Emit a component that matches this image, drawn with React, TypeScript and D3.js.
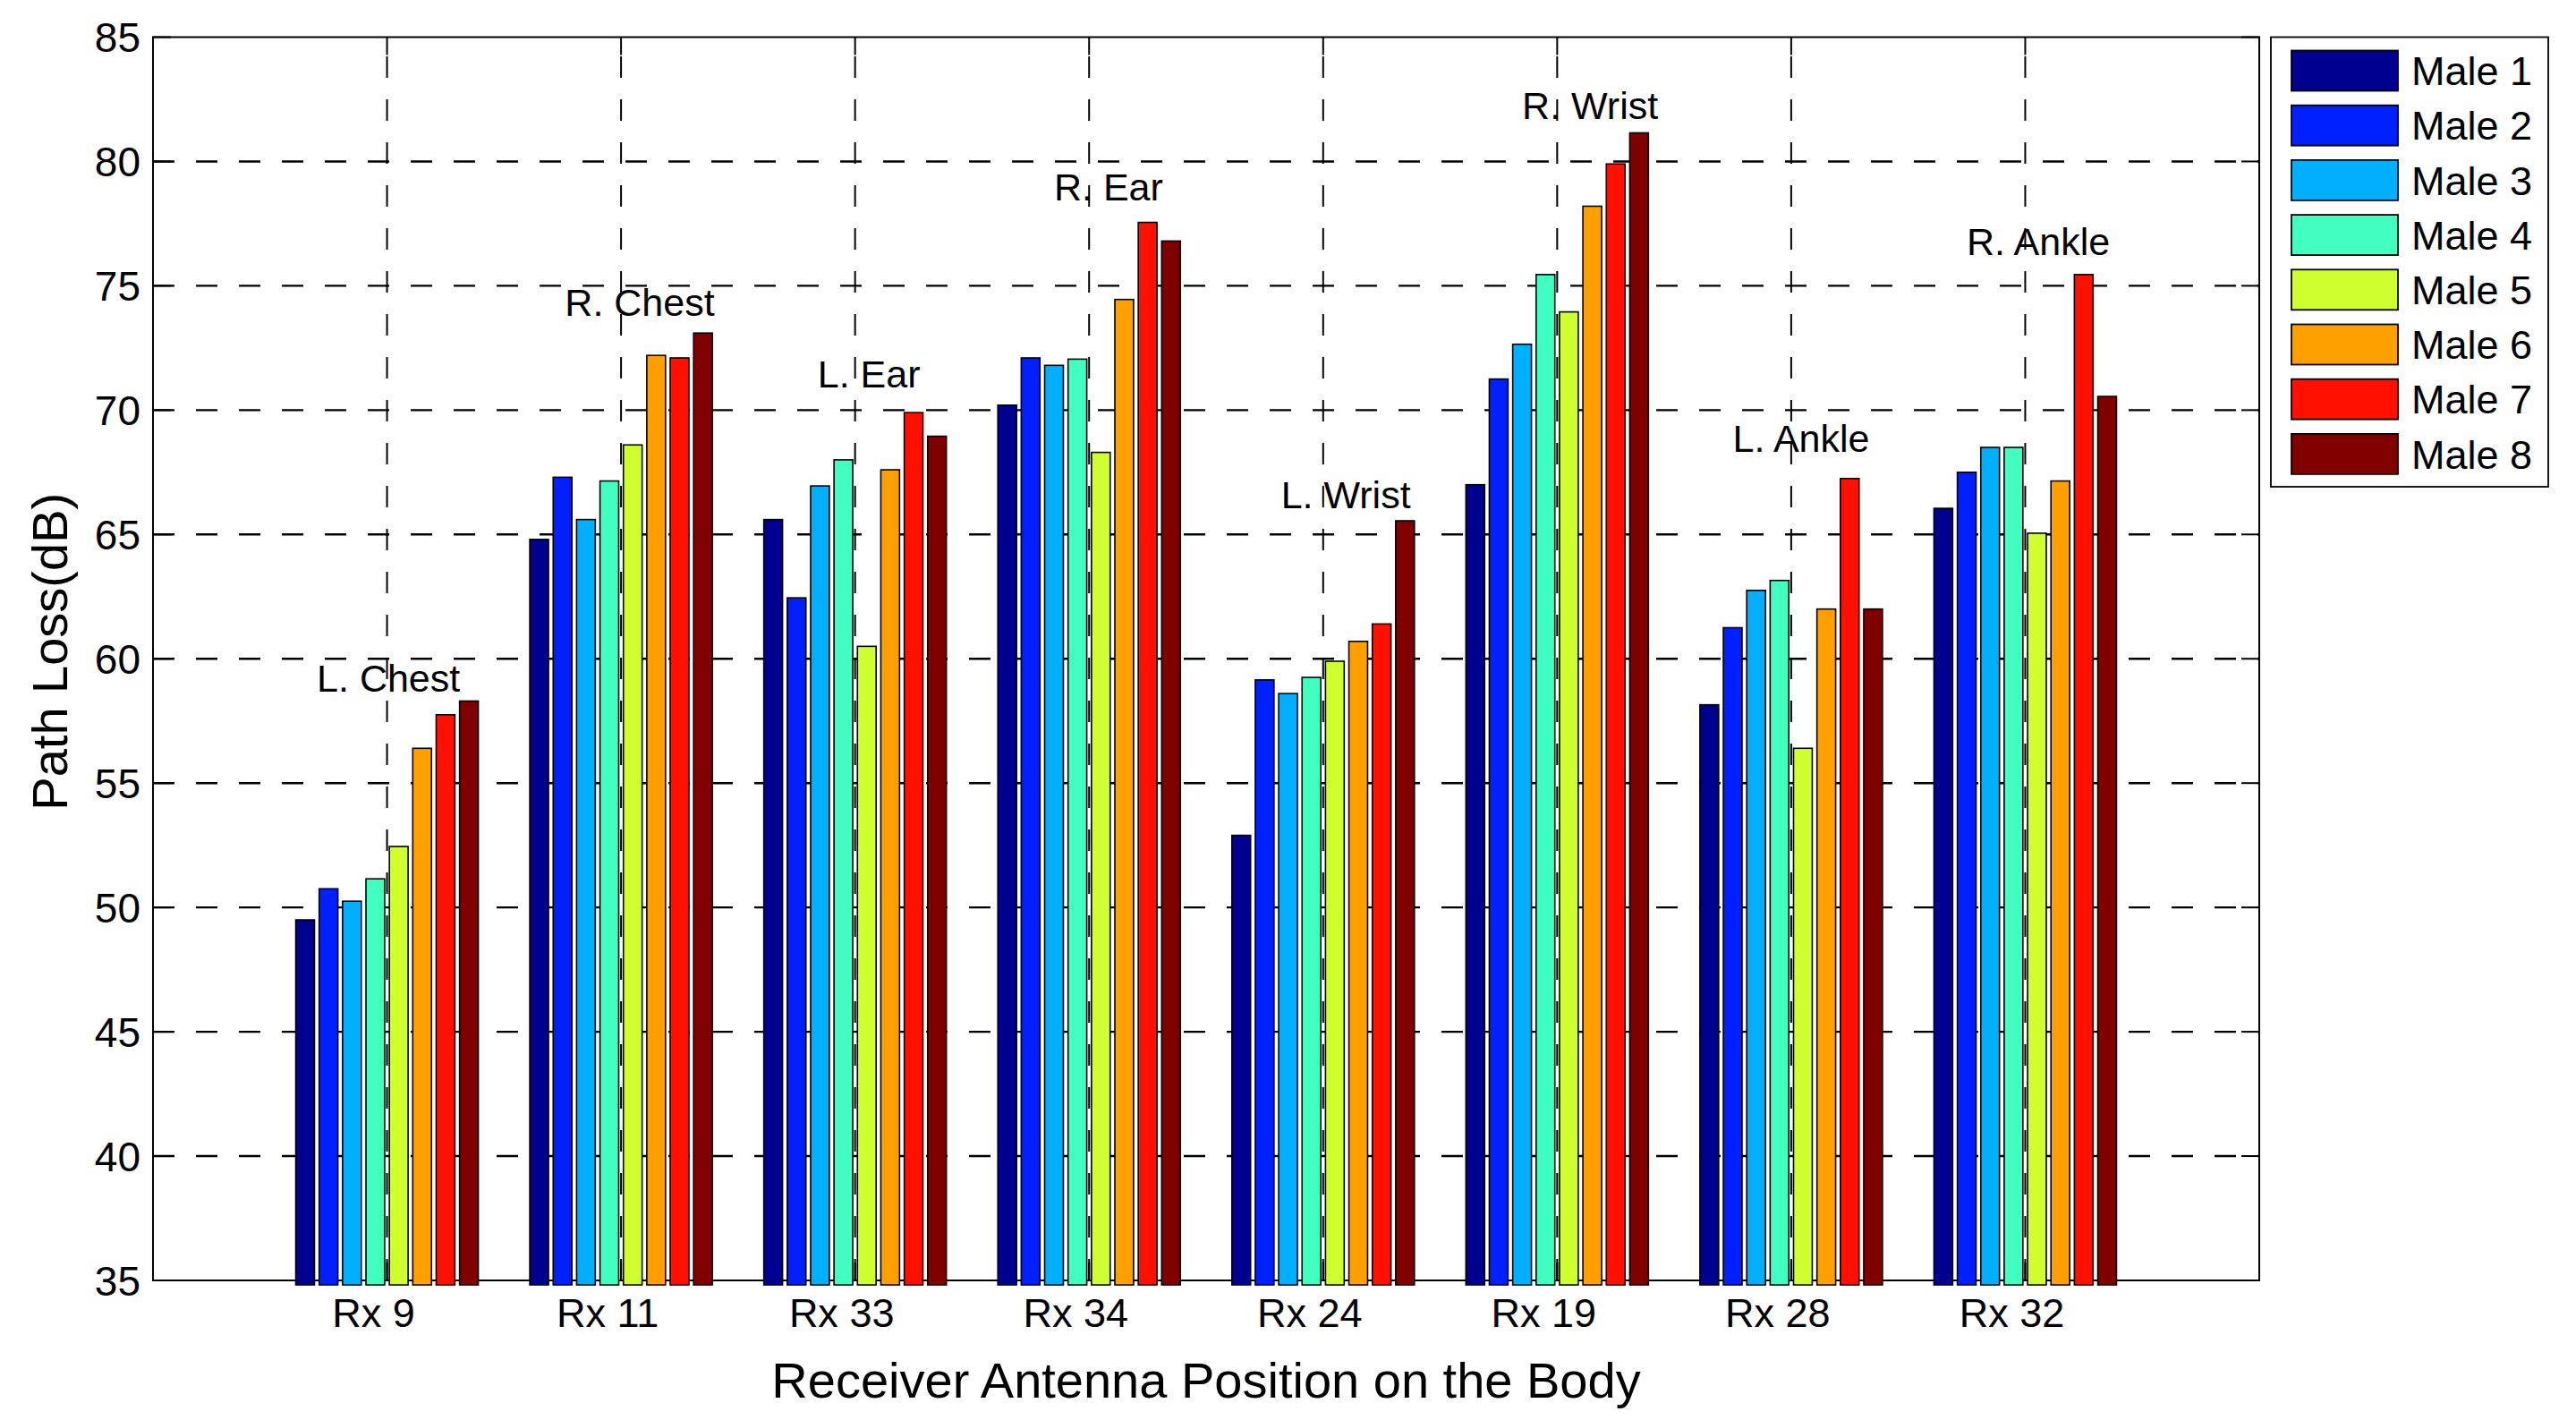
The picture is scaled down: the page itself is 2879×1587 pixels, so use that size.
import React, { useMemo } from 'react';
import * as d3 from 'd3';

const WIDTH = 2879;
const HEIGHT = 1587;
const MARGIN = { top: 41.5, right: 354, bottom: 156, left: 171 };
const FONT = '"Liberation Sans", Arial, sans-serif';

const CATEGORIES = ['Rx 9', 'Rx 11', 'Rx 33', 'Rx 34', 'Rx 24', 'Rx 19', 'Rx 28', 'Rx 32'];
const SERIES = ['Male 1', 'Male 2', 'Male 3', 'Male 4', 'Male 5', 'Male 6', 'Male 7', 'Male 8'];
const COLORS = ['#000090', '#0020ff', '#00b0ff', '#40ffc0', '#d0ff30', '#ffa000', '#ff1000', '#800000'];

const MALE_1 = [49.5, 64.8, 65.6, 70.2, 52.9, 67.0, 58.15, 66.05];
const MALE_2 = [50.75, 67.3, 62.45, 72.1, 59.15, 71.25, 61.25, 67.5];
const MALE_3 = [50.25, 65.6, 66.95, 71.8, 58.6, 72.65, 62.75, 68.5];
const MALE_4 = [51.15, 67.15, 68.0, 72.05, 59.25, 75.45, 63.15, 68.5];
const MALE_5 = [52.45, 68.6, 60.5, 68.3, 59.9, 73.95, 56.4, 65.05];
const MALE_6 = [56.4, 72.2, 67.6, 74.45, 60.7, 78.2, 62.0, 67.15];
const MALE_7 = [57.75, 72.1, 69.9, 77.55, 61.4, 79.9, 67.25, 75.45];
const MALE_8 = [58.3, 73.1, 68.95, 76.8, 65.55, 81.15, 62.0, 70.55];
const VALUES = [MALE_1, MALE_2, MALE_3, MALE_4, MALE_5, MALE_6, MALE_7, MALE_8];

// text annotations above each group (data coords: x = left edge, y = baseline)
const NOTE_TEXT = ['L. Chest', 'R. Chest', 'L. Ear', 'R. Ear', 'L. Wrist', 'R. Wrist', 'L. Ankle', 'R. Ankle'];
const NOTE_X = [0.7, 1.76, 2.84, 3.85, 4.82, 5.85, 6.75, 7.75];
const NOTE_Y = [58.67, 73.78, 70.9, 78.42, 66.05, 81.7, 68.31, 76.22];

const Y_TICKS = [35, 40, 45, 50, 55, 60, 65, 70, 75, 80, 85];

const SLOT = 0.1; // spacing of bars inside a group, x units
const BAR_W = 0.08;
const TICK_LEN = 20;

const App = () => {
  const boundsWidth = WIDTH - MARGIN.left - MARGIN.right;
  const boundsHeight = HEIGHT - MARGIN.top - MARGIN.bottom;

  const xScale = useMemo(
    () => d3.scaleLinear().domain([0, CATEGORIES.length + 1]).range([0, boundsWidth]),
    [boundsWidth]
  );
  const yScale = useMemo(
    () => d3.scaleLinear().domain([35, 85]).range([boundsHeight, 0]),
    [boundsHeight]
  );

  const xTicks = CATEGORIES.map((_, i) => i + 1);

  const bars = VALUES.flatMap((series, s) =>
    series.map((v, g) => {
      const cx = g + 1 + (s - (SERIES.length - 1) / 2) * SLOT;
      const x0 = xScale(cx - BAR_W / 2);
      const x1 = xScale(cx + BAR_W / 2);
      return (
        <rect
          key={`${s}-${g}`}
          x={x0}
          width={x1 - x0}
          y={yScale(v)}
          height={yScale(35) - yScale(v) + 5}
          fill={COLORS[s]}
          stroke="#000"
          strokeWidth={1.6}
        />
      );
    })
  );

  return (
    <svg
      width={WIDTH}
      height={HEIGHT}
      style={{ position: 'absolute', left: 0, top: 0, background: '#fff' }}
      fontFamily={FONT}
    >
      <rect width={WIDTH} height={HEIGHT} fill="#fff" />
      <g transform={`translate(${MARGIN.left},${MARGIN.top})`}>
        {/* grid */}
        {Y_TICKS.slice(1, -1).map((t) => (
          <line key={`gy${t}`} x1={0} x2={boundsWidth} y1={yScale(t)} y2={yScale(t)}
            stroke="#000" strokeWidth={2.4} strokeDasharray="24 24" />
        ))}
        {xTicks.map((t) => (
          <line key={`gx${t}`} x1={xScale(t)} x2={xScale(t)} y1={boundsHeight} y2={0}
            stroke="#000" strokeWidth={2} strokeDasharray="24 24" />
        ))}

        {/* ticks, inward on all sides */}
        {Y_TICKS.map((t) => (
          <g key={`ty${t}`}>
            <line x1={0} x2={TICK_LEN} y1={yScale(t)} y2={yScale(t)} stroke="#000" strokeWidth={2} />
            <line x1={boundsWidth - TICK_LEN} x2={boundsWidth} y1={yScale(t)} y2={yScale(t)} stroke="#000" strokeWidth={2} />
            <text x={-14} y={yScale(t)} dy="0.36em" textAnchor="end" fontSize={46}>{t}</text>
          </g>
        ))}
        {xTicks.map((t) => (
          <g key={`tx${t}`}>
            <line x1={xScale(t)} x2={xScale(t)} y1={0} y2={TICK_LEN} stroke="#000" strokeWidth={2} />
            <line x1={xScale(t)} x2={xScale(t)} y1={boundsHeight - TICK_LEN} y2={boundsHeight} stroke="#000" strokeWidth={2} />
          </g>
        ))}

        {/* axes box */}
        <rect x={0} y={0} width={boundsWidth} height={boundsHeight} fill="none" stroke="#000" strokeWidth={2} />

        {bars}

        {CATEGORIES.map((c, i) => (
          <text key={c} x={xScale(i + 1)} dx={-15} y={boundsHeight + 52} textAnchor="middle" fontSize={45}>
            {c}
          </text>
        ))}

        {NOTE_TEXT.map((n, i) => (
          <text key={n} x={xScale(NOTE_X[i])} y={yScale(NOTE_Y[i])} fontSize={43}>
            {n}
          </text>
        ))}

        <text x={boundsWidth / 2} y={boundsHeight + 131} textAnchor="middle" fontSize={56}>
          Receiver Antenna Position on the Body
        </text>
        <text
          transform={`translate(${-96},${boundsHeight / 2 - 8}) rotate(-90)`}
          textAnchor="middle"
          fontSize={56}
        >
          Path Loss(dB)
        </text>
      </g>

      {/* legend */}
      <g transform="translate(2538,41.5)">
        <rect x={0} y={0} width={310} height={502.5} fill="#fff" stroke="#000" strokeWidth={1.8} />
        {SERIES.map((s, i) => (
          <g key={s} transform={`translate(0,${37.5 + i * 61.2})`}>
            <rect x={23} y={-22.5} width={119} height={45} fill={COLORS[i]} stroke="#000" strokeWidth={1.8} />
            <text x={157} y={0} dy="0.36em" fontSize={45}>{s}</text>
          </g>
        ))}
      </g>
    </svg>
  );
};

export default App;
